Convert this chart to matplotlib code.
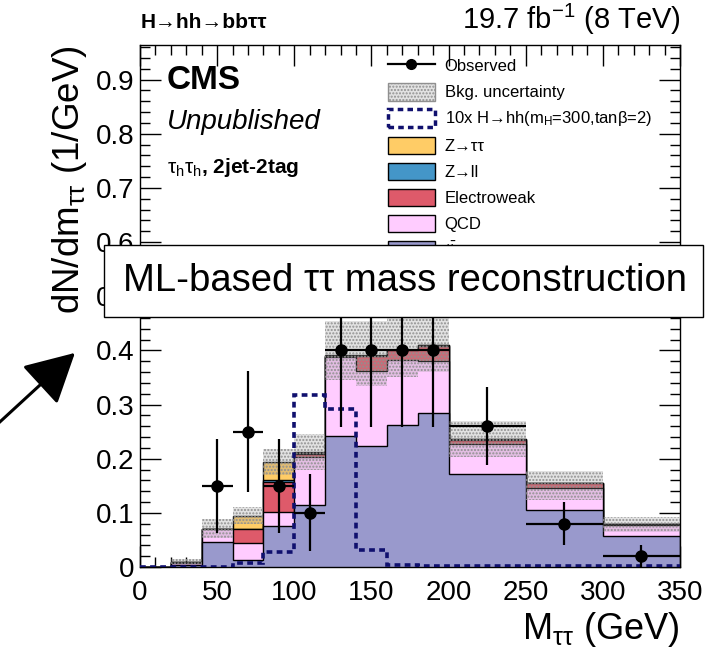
import numpy as np
import matplotlib
matplotlib.use('Agg')
import matplotlib.pyplot as plt
from matplotlib.patches import Patch, Rectangle, FancyArrowPatch
from matplotlib.lines import Line2D
from matplotlib.ticker import MultipleLocator

plt.rcParams['font.family'] = ['Liberation Sans', 'DejaVu Sans']
plt.rcParams['mathtext.fontset'] = 'custom'
plt.rcParams['mathtext.rm'] = 'Liberation Sans'
plt.rcParams['mathtext.it'] = 'Liberation Sans:italic'
plt.rcParams['mathtext.bf'] = 'Liberation Sans:bold'

# bin edges in GeV
edges = [0, 20, 40, 60, 80, 100, 120, 140, 160, 180, 200, 250, 300, 350]

# backgrounds (stacked from bottom), dN/dm
ttbar = [0, 0.003, 0.047, 0.013, 0.075, 0.114, 0.242, 0.223, 0.263, 0.284, 0.172, 0.106, 0.058]
qcd   = [0, 0.005, 0.023, 0.031, 0.026, 0.090, 0.145, 0.139, 0.120, 0.096, 0.056, 0.039, 0.019]
ewk   = [0, 0.001, 0.001, 0.027, 0.056, 0.005, 0.002, 0.027, 0.017, 0.029, 0.007, 0.010, 0.003]
zll   = [0, 0, 0, 0, 0.003, 0.001, 0.001, 0.001, 0.001, 0.001, 0.001, 0.001, 0]
ztt   = [0, 0, 0, 0.024, 0.033, 0.003, 0.002, 0.001, 0, 0, 0, 0, 0]

# background uncertainty band
unc_lo = [0, 0.005, 0.054, 0.080, 0.169, 0.180, 0.345, 0.335, 0.350, 0.360, 0.203, 0.123, 0.064]
unc_hi = [0, 0.015, 0.088, 0.110, 0.217, 0.246, 0.455, 0.455, 0.460, 0.460, 0.270, 0.178, 0.093]

# 10x signal
signal = [0, 0, 0, 0.007, 0.027, 0.318, 0.292, 0.031, 0.004, 0.001, 0.001, 0.001, 0.001]

# observed
obs_x    = [50, 70, 90, 110, 130, 150, 170, 190, 225, 275, 325]
obs_y    = [0.15, 0.25, 0.15, 0.10, 0.40, 0.40, 0.40, 0.40, 0.26, 0.08, 0.02]
obs_xerr = [10, 10, 10, 10, 10, 10, 10, 10, 25, 25, 25]
obs_yerr = [0.087, 0.112, 0.087, 0.071, 0.141, 0.141, 0.141, 0.141, 0.072, 0.040, 0.020]

c_tt = '#9999CC'
c_qcd = '#FFCCFF'
c_ewk = '#DE5A6A'
c_zll = '#4496C8'
c_ztt = '#FFCC66'
c_sig = '#10106E'
sig_ls = (0, (1.6, 1.2))

fig = plt.figure(figsize=(7.15, 6.53), dpi=100)
ax = fig.add_axes([140/715, 1-567/653, 540/715, 522/653])

# stack: draw the cumulative sums from the top down so lower ones sit in front
comps = [ttbar, qcd, ewk, zll, ztt]
colors = [c_tt, c_qcd, c_ewk, c_zll, c_ztt]
cums = np.cumsum(np.array(comps), axis=0)
for i in range(len(comps)-1, -1, -1):
    ax.stairs(cums[i], edges, baseline=0, fill=True, facecolor=colors[i],
              edgecolor='black', lw=1, zorder=2)

# uncertainty band
ax.stairs(unc_hi, edges, baseline=unc_lo, fill=True, facecolor=(0.6, 0.6, 0.6, 0.28),
          edgecolor='#909090', hatch='.....', lw=0, zorder=3)

# signal
ax.stairs(signal, edges, baseline=None, color=c_sig, lw=2.6, linestyle=sig_ls, zorder=4)

# data
ax.errorbar(obs_x, obs_y, xerr=obs_xerr, yerr=obs_yerr, fmt='o', color='black',
            ms=8, elinewidth=1.6, capsize=0, zorder=5)

ax.set_xlim(0, 350)
ax.set_ylim(0, 0.964)
ax.xaxis.set_major_locator(MultipleLocator(50))
ax.xaxis.set_minor_locator(MultipleLocator(10))
ax.yaxis.set_minor_locator(MultipleLocator(0.02))
ax.set_yticks(np.arange(0, 0.95, 0.1))
ax.set_yticklabels(['0', '0.1', '0.2', '0.3', '0.4', '0.5', '0.6', '0.7', '0.8', '0.9'])
ax.tick_params(which='both', direction='in', top=True, right=True, labelsize=20, width=1)
ax.tick_params(axis='x', which='major', length=15, pad=9)
ax.tick_params(axis='y', which='major', length=15, pad=4)
ax.tick_params(which='minor', length=7.5)
for s in ax.spines.values():
    s.set_linewidth(1)

ax.set_xlabel(r'M$_{\mathrm{\tau\tau}}$ (GeV)', fontsize=26, loc='right', labelpad=3)
ax.set_ylabel(r'dN/dm$_{\mathrm{\tau\tau}}$ (1/GeV)', fontsize=26.5, loc='top', labelpad=5)

# labels
fig.text(141/715, 1-28/653, 'H→hh→bbττ', fontsize=15,
         fontweight='bold', ha='left', va='baseline')
fig.text(681/715, 1-29/653, r'19.7 fb$^{-1}$ (8 TeV)', fontsize=21, ha='right', va='baseline')
ax.text(0.05, 0.915, 'CMS', transform=ax.transAxes, fontsize=24, fontweight='bold', va='baseline')
ax.text(0.05, 0.84, 'Unpublished', transform=ax.transAxes, fontsize=20, style='italic', va='baseline')
ax.text(0.05, 0.755, r'$\mathrm{\tau_{h}\tau_{h}}$, 2jet-2tag', transform=ax.transAxes,
        fontsize=15, fontweight='bold', va='baseline')

handles = [
    Line2D([], [], color='black', marker='o', ms=7, lw=1.6),
    Patch(facecolor=(0.6, 0.6, 0.6, 0.28), edgecolor='#909090', hatch='.....'),
    Patch(facecolor='none', edgecolor=c_sig, linestyle=sig_ls, lw=2.5),
    Patch(facecolor=c_ztt, edgecolor='black'),
    Patch(facecolor=c_zll, edgecolor='black'),
    Patch(facecolor=c_ewk, edgecolor='black'),
    Patch(facecolor=c_qcd, edgecolor='black'),
    Patch(facecolor=c_tt, edgecolor='black'),
]
labels = ['Observed', 'Bkg. uncertainty',
          r'10x H→hh(m$_{\mathrm{H}}$=300,tanβ=2)',
          'Z→ττ', 'Z→ll', 'Electroweak', 'QCD',
          r't$\bar{\mathrm{t}}$']
ax.legend(handles, labels, loc='upper left', bbox_to_anchor=(388/715, 1-57/653),
          bbox_transform=fig.transFigure, frameon=False, fontsize=12,
          handlelength=2.8, handleheight=1.25, handletextpad=0.6,
          labelspacing=0.5, borderpad=0, borderaxespad=0)

# overlay box and arrow
fig.patches.append(Rectangle((104/715, 1-317/653), 599/715, 72/653, transform=fig.transFigure,
                             facecolor='white', edgecolor='black', lw=1, zorder=10))
fig.text(405/715, 1-281/653, 'ML-based ττ mass reconstruction', fontsize=27.5,
         ha='center', va='center', zorder=11)
fig.patches.append(FancyArrowPatch((-10/715, 1-431/653), (77/715, 1-351/653),
                                   transform=fig.transFigure, arrowstyle='-|>,head_length=1.4,head_width=0.75',
                                   mutation_scale=22, lw=2.2, color='black', zorder=10))

fig.savefig('out.png', dpi=100)
